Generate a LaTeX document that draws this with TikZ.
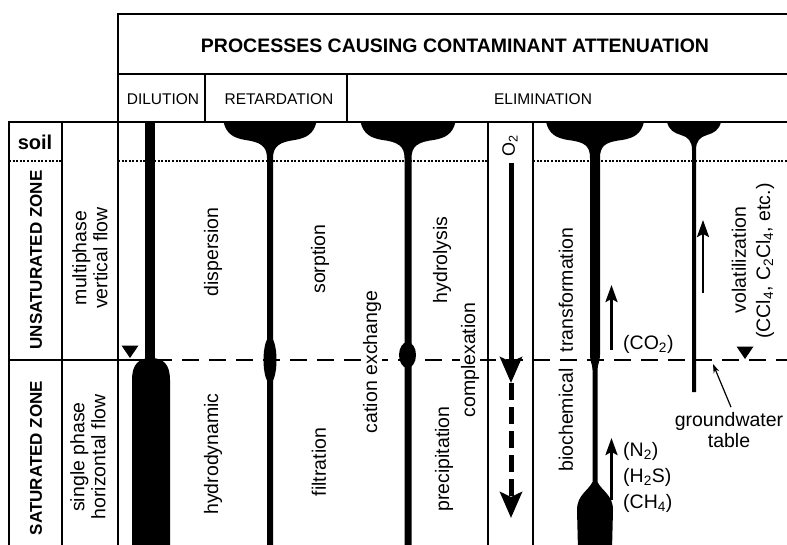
\documentclass[tikz,border=0pt]{standalone}
\usepackage{fontspec}
\setmainfont{Liberation Sans}
\usetikzlibrary{arrows.meta}
\newcommand\ssub[1]{\textsubscript{#1}}
\newcommand\bodysize{\fontsize{19.5}{21}\selectfont}
% funnel: cx, half top width, half stem width, bottom y
\newcommand\funnelshape[4]{%
  \fill (#1-#2,122) .. controls (#1-#2+3,134) and (#1-#2+10,138) .. (#1-#2+22,140)
    .. controls (#1-10,142) and (#1-#3,146) .. (#1-#3,158) -- (#1-#3,#4) -- (#1+#3,#4) -- (#1+#3,158)
    .. controls (#1+#3,146) and (#1+10,142) .. (#1+#2-22,140)
    .. controls (#1+#2-10,138) and (#1+#2-3,134) .. (#1+#2,122) -- cycle;}
\begin{document}
\begin{tikzpicture}[x=1pt,y=-1pt,
  frame/.style={line width=2pt},
  soilline/.style={line width=1.4pt, dash pattern=on 2pt off 1.6pt},
  wtline/.style={line width=2.4pt, dash pattern=on 17pt off 10pt},
  headtxt/.style={font=\fontsize{15.5}{18}\selectfont},
  titletxt/.style={font=\bfseries\fontsize{19.5}{22}\selectfont},
  zonetxt/.style={font=\bfseries\fontsize{17}{20}\selectfont, rotate=90},
  vlab/.style={font=\bodysize, rotate=90, align=center, inner sep=1pt},
  hlab/.style={font=\bodysize, align=left, inner sep=1pt},
  blank/.style={fill=white},
  upar/.style={line width=2.5pt, -{Stealth[length=17pt,width=12pt,inset=3pt]}},
  o2ar/.style={line width=5pt, -{Stealth[length=26pt,width=22pt,inset=5pt]}},
  o2dash/.style={o2ar, dash pattern=on 17pt off 7pt},
  ptr/.style={line width=1.2pt, -{Stealth[length=9pt,width=6pt]}}
]
\useasboundingbox (0,0) rectangle (787,544);
\clip (0,0) rectangle (787,544);

% ---- frame ----
\draw[frame] (118,550) -- (118,14) -- (800,14);
\draw[frame] (118,74) -- (800,74);
\draw[frame] (9,550) -- (9,122) -- (800,122);
\draw[frame] (205,74) -- (205,122);
\draw[frame] (347,74) -- (347,122);
\draw[frame] (62,122) -- (62,550);
\draw[frame] (9,360) -- (128,360);
\draw[frame] (488,122) -- (488,550);
\draw[frame] (533,122) -- (533,550);

% soil line
\draw[soilline] (9,161) -- (62,161);
\draw[soilline] (118,161) -- (488,161);
\draw[soilline] (533,161) -- (790,161);

% water table
\draw[wtline] (128,360) -- (790,360);
\fill (121.5,345.5) -- (138.5,345.5) -- (130,358) -- cycle;
\fill (736.5,346.5) -- (753.5,346.5) -- (745,359) -- cycle;

% ---- header text ----
\node[titletxt] (title) at (455,46) {PROCESSES CAUSING CONTAMINANT ATTENUATION};
\node[headtxt] (dil) at (163,99) {DILUTION};
\node[headtxt] (ret) at (279,99) {RETARDATION};
\node[headtxt] (eli) at (543,99) {ELIMINATION};

% ---- left column ----
\node[font=\bfseries\fontsize{20}{22}\selectfont] (soil) at (35,142) {soil};
\node[zonetxt] (uz) at (36,260) {UNSATURATED ZONE};
\node[zonetxt] (sz) at (36,458) {SATURATED ZONE};
\node[vlab] (mvf) at (90,258) {multiphase\\vertical flow};
\node[vlab] (shf) at (88,457) {single phase\\horizontal flow};

% ---- dilution ----
\fill (145,122) rectangle (155,364);
\fill (132,550) -- (132,380) .. controls (132,364) and (139,358) .. (151,358)
      .. controls (163,358) and (170,364) .. (170,380) -- (170,550) -- cycle;

% ---- retardation funnel ----
\funnelshape{270}{46.5}{3}{550}
\fill (270,360) ellipse [x radius=6.5pt, y radius=23pt];

% ---- elimination funnel (cation exchange) ----
\funnelshape{408}{47.5}{3.5}{550}
\fill (407.5,355) ellipse [x radius=8.5pt, y radius=13pt];

% ---- biochemical funnel ----
\fill (546,122) .. controls (549,134) and (556,138) .. (568,140)
    .. controls (585,142) and (590,146) .. (590,158) -- (590,355)
    .. controls (590,362) and (592.5,364) .. (592.5,370) -- (592.5,482)
    .. controls (588,491) and (577,495) .. (577,510) -- (578,550) -- (612,550) -- (613,510)
    .. controls (613,495) and (602,491) .. (597.5,482) -- (597.5,370)
    .. controls (597.5,364) and (600,362) .. (600,355) -- (600,158)
    .. controls (600,146) and (605,142) .. (622,140)
    .. controls (634,138) and (641,134) .. (644,122) -- cycle;

% ---- volatilization funnel ----
\fill (667,122) .. controls (669,130) and (674,133) .. (681,135)
    .. controls (688,137) and (692,141) .. (692,150) -- (692,392) -- (696,392) -- (696,150)
    .. controls (696,141) and (700,137) .. (707,135)
    .. controls (714,133) and (719,130) .. (721,122) -- cycle;

% ---- O2 arrows ----
\node[font=\fontsize{18}{20}\selectfont, rotate=90, inner sep=1pt] (o2) at (510,146) {O\ssub{2}};
\coordinate (o2a) at (511,163);
\coordinate (o2b) at (511,383);
\coordinate (o2c) at (511,518);
\draw[o2ar] (o2a) -- (o2b);
\draw[o2dash] (o2b) -- (o2c);

% ---- body labels ----
\node[vlab] (disp) at (213,252) {dispersion};
\node[vlab] (hydro) at (213,454) {hydrodynamic};
\node[vlab] (sorp) at (320,259) {sorption};
\node[vlab] (filt) at (319,462) {filtration};
\node[vlab, blank] (cat) at (372,362) {cation exchange};
\node[vlab] (hydrol) at (442,260) {hydrolysis};
\node[vlab, blank] (compl) at (470,360) {complexation};
\node[vlab] (prec) at (444,459) {precipitation};
\node[vlab] (trans) at (566,290) {transformation};
\node[vlab] (bio) at (566,420) {biochemical};
\node[vlab] (vol) at (739,260) {volatilization};
\node[vlab] (ccl) at (765,261) {(CCl\ssub{4}, C\ssub{2}Cl\ssub{4}, etc.)};

% ---- gas arrows ----
\coordinate (co2a) at (611.5,350);
\coordinate (co2b) at (611.5,285);
\draw[upar] (co2a) -- (co2b);
\node[hlab, anchor=west] (co2) at (622,344) {(CO\ssub{2})};

\coordinate (n2a) at (611.5,500);
\coordinate (n2b) at (611.5,438);
\draw[upar] (n2a) -- (n2b);
\node[hlab, anchor=west] (n2) at (622,451) {(N\ssub{2})};
\node[hlab, anchor=west] (h2s) at (622,477) {(H\ssub{2}S)};
\node[hlab, anchor=west] (ch4) at (622,503) {(CH\ssub{4})};

\coordinate (vola) at (703,293);
\coordinate (volb) at (703,220);
\draw[upar] (vola) -- (volb);

% ---- groundwater table ----
\node[font=\bodysize, align=center, inner sep=1pt] (gwt) at (729,430) {groundwater\\table};
\coordinate (gwtip) at (713,364);
\draw[ptr] (gwt.north) ++(2,-4) coordinate (gwfoot) (gwfoot) -- (gwtip);
\end{tikzpicture}
\end{document}
